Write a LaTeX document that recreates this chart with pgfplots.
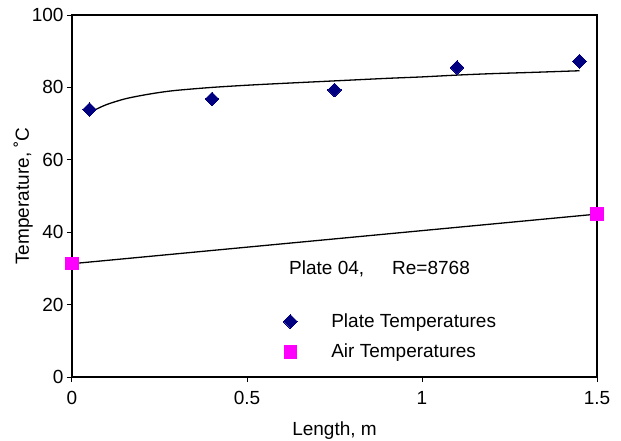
\documentclass[border=0pt]{standalone}
\usepackage{pgfplots}
\pgfplotsset{compat=1.18}
\usepackage{fontspec}
\setmainfont{Liberation Sans}
\definecolor{navy}{RGB}{0,0,128}
\definecolor{mag}{RGB}{255,0,255}
\begin{document}
\begin{tikzpicture}
\begin{axis}[
  name=ax,
  scale only axis,
  width=525pt, height=362pt,
  xmin=0, xmax=1.5, ymin=0, ymax=100,
  xtick={0,0.5,1,1.5},
  xticklabels={0,0.5,1,1.5},
  ytick={0,20,40,60,80,100},
  tick align=outside,
  xtick pos=bottom, ytick pos=left,
  major tick length=5pt,
  tick style={black, line width=1pt},
  axis line style={line width=1.6pt},
  /pgf/number format/assume math mode=true,
  font=\fontsize{19}{22}\selectfont,
  ticklabel style={font=\fontsize{19}{22}\selectfont},
  xticklabel style={yshift=-6pt},
  xlabel={Length, m},
  ylabel={Temperature, ˚C},
  xlabel style={yshift=-10pt},
  ylabel style={yshift=-8pt},
  legend style={draw=none, fill=none, at={(axis cs:0.595,18.6)}, anchor=north west,
    font=\fontsize{19}{22}\selectfont, row sep=11pt,
    /tikz/every odd column/.append style={column sep=32pt},
    cells={anchor=west}},
  legend image code/.code={\draw[#1] plot[only marks] coordinates {(0pt,0pt)};},
]
\addplot[black, line width=1.3pt, smooth, no marks, forget plot] coordinates {
(0.05,72.9)(0.07,74.0)(0.1,75.3)(0.15,76.8)(0.2,77.8)(0.25,78.6)(0.3,79.2)
(0.4,80.0)(0.5,80.6)(0.6,81.1)(0.75,81.8)(0.9,82.5)(1.0,82.9)(1.1,83.4)
(1.2,83.8)(1.3,84.1)(1.45,84.6)};
\addplot[black, line width=1.3pt, no marks, forget plot] coordinates {(0,31.3)(1.5,45.0)};
\addplot[only marks, mark=square*, mark size=4.9pt, mark options={rotate=45, fill=navy, draw=navy, line width=0pt}] coordinates {
(0.05,73.9)(0.4,76.8)(0.75,79.3)(1.1,85.5)(1.45,87.2)};
\addlegendentry{Plate Temperatures}
\addplot[only marks, mark=square*, mark size=6.3pt, mark options={fill=mag, draw=mag, line width=0pt}] coordinates {
(0,31.3)(1.5,45.0)};
\addlegendentry{Air Temperatures}
\node[anchor=west, inner sep=0pt, font=\fontsize{19}{22}\selectfont] at (axis cs:0.62,29.8) {Plate 04,\hspace{28pt}Re=8768};
\end{axis}
\pgfresetboundingbox
\path ([shift={(-72pt,-63pt)}]ax.south west) rectangle ([shift={(24pt,15pt)}]ax.north east);
\end{tikzpicture}
\end{document}
